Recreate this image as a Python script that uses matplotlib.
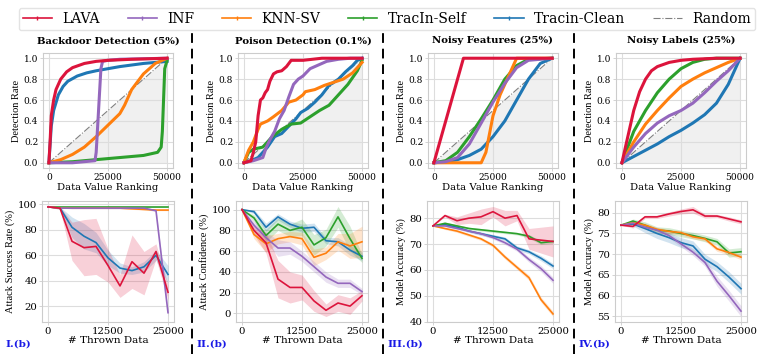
import matplotlib
matplotlib.use("Agg")
import matplotlib.pyplot as plt
from matplotlib.lines import Line2D
import numpy as np

# colores y nombres de los métodos
metodos = ["LAVA", "INF", "KNN-SV", "TracIn-Self", "Tracin-Clean"]
colores = ["#dc143c", "#9467bd", "#ff7f0e", "#2ca02c", "#1f77b4"]
titulos = ["Backdoor Detection (5%)", "Poison Detection (0.1%)",
           "Noisy Features (25%)", "Noisy Labels (25%)"]
etiquetas_y = ["Attack Success Rate (%)", "Attack Confidence (%)",
               "Model Accuracy (%)", "Model Accuracy (%)"]
paneles = ["I.(b)", "II.(b)", "III.(b)", "IV.(b)"]
yticks_inf = [[20, 40, 60, 80, 100], [0, 20, 40, 60, 80, 100],
              [40, 50, 60, 70, 80], [55, 60, 65, 70, 75, 80]]

# ---- fila superior: tasa de detección vs ranking (x en miles) ----
bd_lava = [(0, 0), (0.5, .2), (1, .45), (2, .6), (3, .7), (5, .8), (7.5, .87), (10, .91), (15, .95), (20, .97), (25, .98), (35, .99), (50, 1)]
bd_inf = [(0, 0), (10, 0), (19.5, .02), (20, .1), (21, .5), (22, .9), (22.7, .97), (25, .98), (30, .99), (50, 1)]
bd_knn = [(0, 0), (5, .03), (10, .08), (15, .15), (20, .25), (25, .36), (30, .47), (32, .55), (35, .7), (40, .85), (45, .95), (50, 1)]
bd_self = [(0, 0), (10, .01), (20, .03), (30, .05), (40, .07), (46, .1), (47.5, .15), (48, .3), (48.5, .6), (49, .9), (50, .98)]
bd_clean = [(0, 0), (1, .35), (2, .5), (4, .65), (6, .73), (8, .78), (12, .83), (16, .86), (20, .88), (25, .9), (30, .92), (40, .95), (50, .97)]

po_lava = [(0, 0), (3, .02), (4, .1), (5, .2), (6, .45), (7, .6), (8, .62), (9, .67), (10, .7), (11, .78), (12.5, .85), (14, .87), (16, .88), (18, .92), (20, .98), (25, .98), (33, 1), (50, 1)]
po_inf = [(0, 0), (4, .02), (8, .05), (9.5, .15), (11, .22), (13, .3), (15, .42), (17, .5), (19, .63), (21, .75), (23, .8), (25, .83), (28, .9), (31, .93), (35, .97), (40, .99), (45, 1), (50, 1)]
po_knn = [(0, 0), (2, .12), (4, .2), (6, .32), (7, .37), (10, .4), (12.5, .44), (16, .5), (19, .58), (22, .6), (25, .65), (26, .68), (30, .7), (34, .74), (38, .77), (42, .8), (46, .86), (50, .96)]
po_self = [(0, 0), (2, .1), (4, .13), (8, .15), (12, .25), (16, .32), (20, .37), (24, .38), (28, .44), (32, .5), (36, .55), (40, .65), (44, .75), (48, .88), (50, .98)]
po_clean = [(0, 0), (3, .02), (6, .05), (8, .1), (10, .15), (13, .25), (16, .28), (19, .35), (22, .42), (24, .48), (27, .52), (30, .58), (33, .65), (36, .74), (40, .8), (43, .87), (46, .93), (48, .98), (50, 1)]

nf_lava = [(0, 0), (12.5, 1), (50, 1)]
nf_inf = [(0, 0), (5, .01), (10, .05), (15, .18), (20, .38), (25, .58), (30, .76), (35, .91), (40, .98), (50, 1)]
nf_knn = [(0, 0), (20, 0), (22, .1), (25, .45), (28, .65), (31, .8), (35, 1), (50, 1)]
nf_self = [(0, 0), (5, .02), (10, .1), (15, .25), (20, .42), (25, .6), (30, .8), (35, .93), (40, .99), (50, 1)]
nf_clean = [(0, 0), (5, .01), (10, .03), (15, .07), (20, .13), (25, .25), (30, .4), (35, .6), (40, .8), (45, .95), (50, 1)]

nl_lava = [(0, 0), (2.5, .25), (5, .5), (7.5, .68), (10, .8), (12.5, .88), (15, .92), (20, .96), (25, .98), (30, .99), (40, 1), (50, 1)]
nl_inf = [(0, 0), (5, .15), (10, .28), (15, .38), (20, .45), (25, .5), (30, .57), (35, .67), (40, .78), (45, .88), (50, 1)]
nl_knn = [(0, 0), (2.5, .1), (5, .2), (10, .37), (15, .5), (20, .62), (25, .73), (30, .8), (35, .86), (40, .91), (45, .96), (50, 1)]
nl_self = [(0, 0), (2.5, .15), (5, .3), (10, .5), (15, .67), (20, .8), (25, .9), (30, .96), (35, .99), (40, 1), (50, 1)]
nl_clean = [(0, 0), (5, .06), (10, .12), (15, .18), (20, .25), (25, .31), (30, .38), (35, .46), (40, .57), (45, .75), (50, 1)]

curvas_sup = [
    [bd_lava, bd_inf, bd_knn, bd_self, bd_clean],
    [po_lava, po_inf, po_knn, po_self, po_clean],
    [nf_lava, nf_inf, nf_knn, nf_self, nf_clean],
    [nl_lava, nl_inf, nl_knn, nl_self, nl_clean],
]

# ---- fila inferior: métrica vs datos eliminados ----
tirados = [0, 2500, 5000, 7500, 10000, 12500, 15000, 17500, 20000, 22500, 25000]

asr_lava = [98, 97, 71, 66, 67, 52, 36, 55, 46, 63, 31]
asr_inf = [98, 97, 97, 97, 97, 97, 97, 97, 97, 95, 15]
asr_knn = [98, 97, 97, 97, 97, 97, 97, 96.5, 96, 95.5, 95.5]
asr_self = [98, 98, 98, 98, 98, 98, 98, 98, 98, 98, 98]
asr_clean = [98, 97, 82, 75, 70, 58, 50, 48, 51, 60, 45]
asr_std = [[0, 1, 15, 22, 22, 13, 9, 21, 17, 6, 6],
           [0, 0, .5, .5, .5, .5, .5, .5, .5, 1, 3],
           [0, 0, .5, .5, .5, .5, .5, .5, .5, .5, .5],
           [0, 0, .3, .3, .3, .3, .3, .3, .3, .3, .3],
           [0, 1, 8, 10, 8, 6, 4, 3, 4, 4, 7]]

conf_lava = [100, 80, 68, 33, 25, 25, 12, 3, 10, 7, 17]
conf_inf = [100, 85, 73, 63, 63, 55, 45, 35, 29, 29, 21]
conf_knn = [100, 76, 67, 72, 74, 72, 54, 58, 69, 65, 69]
conf_self = [100, 92, 75, 86, 80, 83, 66, 73, 93, 72, 53]
conf_clean = [100, 98, 83, 93, 86, 82, 83, 70, 69, 61, 55]
conf_std = [[0, 4, 10, 18, 15, 12, 10, 6, 8, 8, 5],
            [0, 4, 5, 8, 6, 5, 5, 5, 4, 4, 3],
            [0, 4, 8, 5, 5, 6, 8, 6, 8, 12, 15],
            [0, 3, 6, 6, 6, 8, 10, 8, 10, 12, 4],
            [0, 2, 4, 3, 3, 4, 4, 3, 4, 5, 4]]

nfa_lava = [77, 81, 79, 80, 80.5, 82.5, 80, 81, 72, 71.5, 71]
nfa_inf = [77, 77, 76, 75, 74, 72.5, 70.5, 68, 64, 60.5, 56]
nfa_knn = [77, 76, 75, 73.5, 72, 69.5, 65, 61, 57, 48.5, 43]
nfa_self = [77, 78, 77, 76, 75.5, 75, 74.5, 74, 73, 70.5, 71]
nfa_clean = [77, 77.5, 76.5, 75, 74, 73, 72, 68.5, 67, 64.5, 61.5]
nfa_std = [[0, .5, 1.5, 2, 3, 2, 3, 2, 4, 5, 6],
           [0, .3, .4, .5, .5, .6, .7, .8, 1, 1.2, 1.2],
           [0, .4, .5, .6, .6, .7, .8, .8, 1, 1, 1],
           [0, .5, .5, .5, .5, .5, .5, .5, .7, .7, .7],
           [0, .5, .5, .5, .7, .7, .7, .8, .8, 1, 1]]

nla_lava = [77, 76.7, 79, 79, 79.7, 80.3, 80.7, 79.2, 79.2, 78.5, 77.8]
nla_inf = [77, 77.5, 76.5, 75.8, 74.5, 72.5, 70.5, 68, 63.5, 60, 56.3]
nla_knn = [77, 77.6, 77, 76, 75.5, 75.2, 74.2, 73.7, 71.3, 70.4, 69.3]
nla_self = [77, 78, 77, 75.8, 75.6, 75, 74.5, 73.8, 73, 70.3, 70.6]
nla_clean = [77, 77.3, 76.2, 75, 74, 72.8, 72, 68.8, 67, 64.5, 61.7]
nla_std = [[0, .4, .4, .4, .5, .6, .8, .5, .4, .5, .5],
           [0, .4, .5, .6, .6, .7, .8, .9, 1.2, 1.3, 1.3],
           [0, .4, .5, .5, .5, .5, .5, .5, .6, .6, .6],
           [0, .5, .8, .8, .8, .8, .8, .8, .8, 1, 1],
           [0, .5, 1, 1.2, 1.2, 1.2, 1.2, 1.2, 1.2, 1.3, 1.3]]

curvas_inf = [
    ([asr_lava, asr_inf, asr_knn, asr_self, asr_clean], asr_std),
    ([conf_lava, conf_inf, conf_knn, conf_self, conf_clean], conf_std),
    ([nfa_lava, nfa_inf, nfa_knn, nfa_self, nfa_clean], nfa_std),
    ([nla_lava, nla_inf, nla_knn, nla_self, nla_clean], nla_std),
]

# orden de dibujo (LAVA encima)
orden = [4, 3, 2, 1, 0]

fig = plt.figure(figsize=(7.64, 3.54), dpi=100)

izq_sup = [43, 238, 428, 616]
izq_inf = [42, 236, 427, 615]


def estilo(ax):
    ax.grid(True, color="#dddddd", lw=0.8)
    ax.set_axisbelow(True)
    for s in ax.spines.values():
        s.set_color("#cccccc")
        s.set_linewidth(0.8)
    ax.tick_params(length=2, width=0.6, color="#cccccc", pad=1.5)


for i in range(4):
    # fila superior
    ax = fig.add_axes([izq_sup[i] / 764, 1 - 168 / 354, 130 / 764, 115 / 354])
    estilo(ax)
    xx = np.array([0, 50000])
    ax.fill_between(xx, [0, 0], [0, 1], color="#f0f0f0", lw=0, zorder=0)
    ax.plot(xx, [0, 1], color="gray", ls="-.", lw=0.8, zorder=1)
    for j in orden:
        pts = np.array(curvas_sup[i][j])
        ax.plot(pts[:, 0] * 1000, pts[:, 1], color=colores[j], lw=2.2, zorder=2 + (4 - j))
    ax.set_xticks([0, 25000, 50000])
    ax.set_yticks([0, .2, .4, .6, .8, 1.0])
    ax.set_yticklabels(["0.0", "0.2", "0.4", "0.6", "0.8", "1.0"])
    for t in ax.get_xticklabels() + ax.get_yticklabels():
        t.set_fontfamily("DejaVu Serif")
        t.set_fontsize(6.5)
    ax.set_title(titulos[i], fontsize=7.3, fontweight="bold", family="DejaVu Serif", pad=7)
    ax.set_ylabel("Detection Rate", fontsize=7.5, family="Liberation Serif", labelpad=2)
    ax.set_xlabel("Data Value Ranking", fontsize=7.3, family="DejaVu Serif", labelpad=1)

    # fila inferior
    ax = fig.add_axes([izq_inf[i] / 764, 1 - 322 / 354, 132 / 764, 121 / 354])
    estilo(ax)
    medias, stds = curvas_inf[i]
    for j in orden:
        m = np.array(medias[j])
        s = np.array(stds[j])
        ax.fill_between(tirados, m - s, m + s, color=colores[j], alpha=0.2, lw=0)
        ax.plot(tirados, m, color=colores[j], lw=1.2)
    ax.set_xticks([0, 12500, 25000])
    ax.set_yticks(yticks_inf[i])
    for t in ax.get_xticklabels() + ax.get_yticklabels():
        t.set_fontfamily("DejaVu Serif")
        t.set_fontsize(7.3)
    ax.set_ylabel(etiquetas_y[i], fontsize=7.5, family="Liberation Serif", labelpad=2)
    ax.set_xlabel("# Thrown Data", fontsize=7.5, family="DejaVu Serif", labelpad=0)

# líneas separadoras
for x in [192, 383, 574]:
    fig.add_artist(Line2D([x / 764, x / 764], [0, 1 - 30 / 354], transform=fig.transFigure,
                          color="black", ls=(0, (5, 3)), lw=1.4))

# etiquetas de panel
for x, txt in zip([5, 196, 387, 578], paneles):
    fig.text(x / 764, 1 - 344 / 354, txt, color="#1a1ae6", fontweight="bold",
             family="DejaVu Serif", fontsize=7.5, va="center")

# leyenda
manijas = [Line2D([], [], color=c, lw=1.2, marker="|", markersize=3) for c in colores]
manijas.append(Line2D([], [], color="gray", lw=0.8, ls="-."))
fig.legend(manijas, metodos + ["Random"], loc="upper center",
           bbox_to_anchor=(387 / 764, 1 - 1 / 354),
           ncol=6, frameon=True, prop={"family": "DejaVu Serif", "size": 10},
           handlelength=2.1, handletextpad=0.75, columnspacing=2.0, borderpad=0.3,
           edgecolor="#dddddd", fancybox=True)

fig.savefig("out.png", dpi=100)
